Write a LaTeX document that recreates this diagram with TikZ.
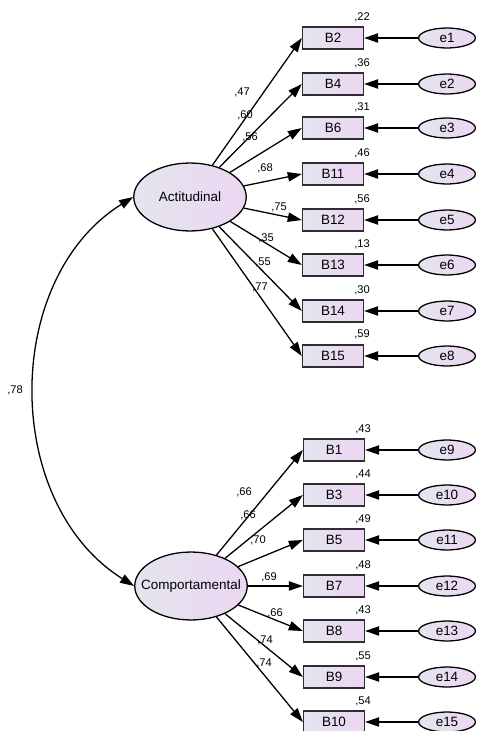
\documentclass[tikz,border=0pt]{standalone}
\usepackage{fontspec}
\setmainfont{Liberation Sans}
\usepackage{tikz}
\usetikzlibrary{shapes.geometric}
\usetikzlibrary{arrows.meta}

\definecolor{fillL}{RGB}{226,229,238}
\definecolor{fillR}{RGB}{237,214,242}
\definecolor{edge}{RGB}{45,45,50}

\tikzset{
  ind/.style={draw=edge, line width=1.2pt, left color=fillL, right color=fillR,
    minimum width=52pt, minimum height=18.5pt, inner sep=0pt, font=\fontsize{11.5}{13}\selectfont},
  err/.style={ellipse, draw=black, line width=1.1pt, left color=fillL, right color=fillR,
    minimum width=48.5pt, minimum height=17pt, inner sep=0pt, font=\fontsize{11.5}{13}\selectfont},
  lat/.style={ellipse, draw=black, line width=1.1pt, left color=fillL, right color=fillR,
    minimum width=96pt, minimum height=58pt, inner ysep=0pt, inner xsep=-14pt, font=\fontsize{11.5}{13}\selectfont},
  coef/.style={inner sep=0pt, font=\fontsize{9.5}{11}\selectfont},
  path/.style={line width=1.1pt, -{Triangle[length=12pt, width=8pt]}},
}

\begin{document}
\begin{tikzpicture}[x=0.03cm, y=-0.03cm]
      \useasboundingbox (0, 0) rectangle (476, 731);

      \node[lat] (act) at (190, 197) {Actitudinal};
      \node[lat] (comp) at (191, 586) {Comportamental};

      \draw [line width=1.1pt, {Triangle[length=12pt, width=8pt]}-{Triangle[length=12pt, width=8pt]}]
        (act.west) to[out=212, in=148, looseness=1.02] (comp.west);
      \node[coef] (cov) at (15, 390) {,78};

      % Actitudinal
      \node[ind] (B2) at (333, 38) {B2};
      \node[err] (e1) at (447, 38) {e1};
      \node[coef] (r2) at (362, 17) {,22};
      \draw[path] (e1) -- (B2);
      \draw[path] (act) -- (B2.west);
      \node[coef] (l2) at (242, 92) {,47};

      \node[ind] (B4) at (333, 84) {B4};
      \node[err] (e2) at (447, 84) {e2};
      \node[coef] (r4) at (362, 63) {,36};
      \draw[path] (e2) -- (B4);
      \draw[path] (act) -- (B4.west);
      \node[coef] (l4) at (245, 115) {,60};

      \node[ind] (B6) at (333, 128) {B6};
      \node[err] (e3) at (447, 128) {e3};
      \node[coef] (r6) at (362, 107) {,31};
      \draw[path] (e3) -- (B6);
      \draw[path] (act) -- (B6.west);
      \node[coef] (l6) at (250, 137) {,56};

      \node[ind] (B11) at (333, 174) {B11};
      \node[err] (e4) at (447, 174) {e4};
      \node[coef] (r11) at (362, 153) {,46};
      \draw[path] (e4) -- (B11);
      \draw[path] (act) -- (B11.west);
      \node[coef] (l11) at (265, 168) {,68};

      \node[ind] (B12) at (333, 220) {B12};
      \node[err] (e5) at (447, 220) {e5};
      \node[coef] (r12) at (362, 199) {,56};
      \draw[path] (e5) -- (B12);
      \draw[path] (act) -- (B12.west);
      \node[coef] (l12) at (279, 207) {,75};

      \node[ind] (B13) at (333, 265) {B13};
      \node[err] (e6) at (447, 265) {e6};
      \node[coef] (r13) at (362, 244) {,13};
      \draw[path] (e6) -- (B13);
      \draw[path] (act) -- (B13.west);
      \node[coef] (l13) at (266, 238) {,35};

      \node[ind] (B14) at (333, 311) {B14};
      \node[err] (e7) at (447, 311) {e7};
      \node[coef] (r14) at (362, 290) {,30};
      \draw[path] (e7) -- (B14);
      \draw[path] (act) -- (B14.west);
      \node[coef] (l14) at (263, 262) {,55};

      \node[ind] (B15) at (333, 356) {B15};
      \node[err] (e8) at (447, 356) {e8};
      \node[coef] (r15) at (362, 334) {,59};
      \draw[path] (e8) -- (B15);
      \draw[path] (act) -- (B15.west);
      \node[coef] (l15) at (260, 287) {,77};

      % Comportamental
      \node[ind] (B1) at (334, 450) {B1};
      \node[err] (e9) at (447, 450) {e9};
      \node[coef] (r1) at (363, 429) {,43};
      \draw[path] (e9) -- (B1);
      \draw[path] (comp) -- (B1.west);
      \node[coef] (l1) at (244, 492) {,66};

      \node[ind] (B3) at (334, 495) {B3};
      \node[err] (e10) at (447, 495) {e10};
      \node[coef] (r3) at (363, 474) {,44};
      \draw[path] (e10) -- (B3);
      \draw[path] (comp) -- (B3.west);
      \node[coef] (l3) at (248, 515) {,66};

      \node[ind] (B5) at (334, 540) {B5};
      \node[err] (e11) at (447, 540) {e11};
      \node[coef] (r5) at (363, 519) {,49};
      \draw[path] (e11) -- (B5);
      \draw[path] (comp) -- (B5.west);
      \node[coef] (l5) at (258, 540) {,70};

      \node[ind] (B7) at (334, 586) {B7};
      \node[err] (e12) at (447, 586) {e12};
      \node[coef] (r7) at (363, 565) {,48};
      \draw[path] (e12) -- (B7);
      \draw[path] (comp) -- (B7.west);
      \node[coef] (l7) at (269, 577) {,69};

      \node[ind] (B8) at (334, 631) {B8};
      \node[err] (e13) at (447, 631) {e13};
      \node[coef] (r8) at (363, 610) {,43};
      \draw[path] (e13) -- (B8);
      \draw[path] (comp) -- (B8.west);
      \node[coef] (l8) at (275, 613) {,66};

      \node[ind] (B9) at (334, 677) {B9};
      \node[err] (e14) at (447, 677) {e14};
      \node[coef] (r9) at (363, 656) {,55};
      \draw[path] (e14) -- (B9);
      \draw[path] (comp) -- (B9.west);
      \node[coef] (l9) at (265, 640) {,74};

      \node[ind] (B10) at (334, 722) {B10};
      \node[err] (e15) at (447, 722) {e15};
      \node[coef] (r10) at (363, 701) {,54};
      \draw[path] (e15) -- (B10);
      \draw[path] (comp) -- (B10.west);
      \node[coef] (l10) at (264, 663) {,74};
    \end{tikzpicture}
\end{document}
